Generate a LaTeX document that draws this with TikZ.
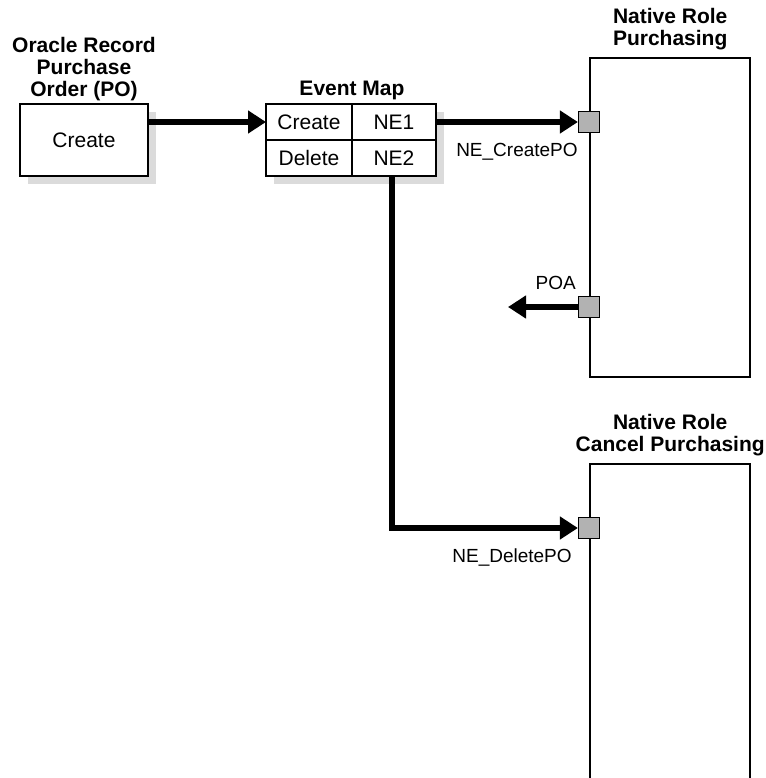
\documentclass[tikz,border=0pt]{standalone}
\usepackage{fontspec}
\setmainfont{Liberation Sans}
\usetikzlibrary{arrows.meta,positioning,shadows}

\begin{document}
\begin{tikzpicture}[x=1pt, y=-1pt,
    font=\fontsize{21}{22}\selectfont,
    box/.style={draw, line width=2.6pt, fill=white, inner sep=0pt, outer sep=0pt,
                drop shadow={shadow xshift=8pt, shadow yshift=-8pt, fill=black!14, opacity=1}},
    cell/.style={box, minimum height=36pt},
    role/.style={draw, line width=2.4pt, minimum width=160pt, inner sep=0pt},
    port/.style={draw, line width=1.2pt, fill=black!30, minimum size=21pt, inner sep=0pt},
    ttl/.style={align=center, font=\fontsize{21}{22}\selectfont\bfseries, inner sep=0pt, anchor=south},
    lbl/.style={font=\fontsize{19}{20}\selectfont, inner sep=0pt},
    flow/.style={line width=6pt, line join=miter, -{Triangle[length=18pt,width=22pt]}}]

  \useasboundingbox (0,0) rectangle (765,778);

  % source record
  \node[box, minimum width=128pt, minimum height=72pt, anchor=north west] (create) at (20,104) {Create};
  \node[ttl] (oracle) at ([yshift=3pt]create.north) {Oracle Record\\Purchase\\Order (PO)};

  % event map table
  \node[cell, minimum width=86pt, anchor=north west] (ev1) at (266,104) {Create};
  \node[cell, minimum width=84pt, anchor=north west] (ne1) at (352,104) {NE1};
  \node[cell, minimum width=86pt, anchor=north west] (ev2) at (266,140) {Delete};
  \node[cell, minimum width=84pt, anchor=north west] (ne2) at (352,140) {NE2};
  \node[ttl] (emap) at ([yshift=4pt]ev1.north east) {Event Map};

  % native roles
  \node[role, minimum height=319pt, anchor=north west] (purch) at (589,57) {};
  \node[ttl] (tpurch) at ([yshift=7pt]purch.north) {Native Role\\Purchasing};
  \node[role, minimum height=340pt, anchor=north west] (cancel) at (589,463) {};
  \node[ttl] (tcancel) at ([yshift=7pt]cancel.north) {Native Role\\Cancel Purchasing};

  \node[port] (pcreate) at (purch.west |- ne1) {};
  \node[port] (poa) at (589,307) {};
  \node[port] (pdelete) at (589,528) {};

  \coordinate (poaout) at (508,307);

  \draw[flow] (create.east |- ev1) -- (ev1.west);
  \draw[flow] (ne1.east) -- (pcreate.west);
  \draw[flow] (poa.west) -- (poaout);
  \draw[flow] ([xshift=-2pt]ne2.south) |- (pdelete.west);

  \node[lbl, anchor=north east] (lcreate) at ([yshift=-9.5pt]pcreate.south west) {NE\_CreatePO};
  \node[lbl, anchor=south east] (lpoa) at ([xshift=-2pt,yshift=6.5pt]poa.north west) {POA};
  \node[lbl, anchor=north east] (ldelete) at ([xshift=-6pt,yshift=-9.5pt]pdelete.south west) {NE\_DeletePO};
\end{tikzpicture}
\end{document}
